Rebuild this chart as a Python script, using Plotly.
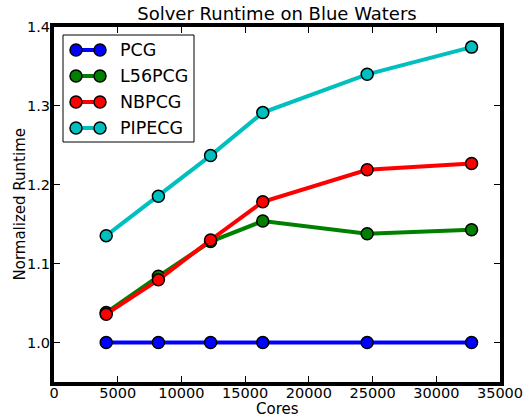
import plotly.graph_objects as go

cores = [4096, 8192, 12288, 16384, 24576, 32768]
series_names = ["PCG", "L56PCG", "NBPCG", "PIPECG"]
pcg = [1.0, 1.0, 1.0, 1.0, 1.0, 1.0]
l56pcg = [1.038, 1.084, 1.128, 1.154, 1.138, 1.143]
nbpcg = [1.036, 1.0795, 1.130, 1.1785, 1.219, 1.227]
pipecg = [1.1355, 1.1855, 1.237, 1.2915, 1.340, 1.3745]
colors = ["#0000ff", "#008000", "#ff0000", "#00bfbf"]
x_ticks = [0, 5000, 10000, 15000, 20000, 25000, 30000, 35000]
y_ticks = [1.0, 1.1, 1.2, 1.3, 1.4]

W, H = 532, 418
L, R, T, B = 54, 500, 27, 382
FONT = "DejaVu Sans"

fig = go.Figure()
for name, vals, col in zip(series_names, [pcg, l56pcg, nbpcg, pipecg], colors):
    fig.add_trace(go.Scatter(
        x=cores, y=vals, mode="lines+markers", name=name,
        line=dict(color=col, width=4),
        marker=dict(color=col, size=12, line=dict(color="black", width=1.5)),
        showlegend=False, cliponaxis=False,
    ))

def px(x):
    return (x - L) / (R - L)

def py(y):
    return (B - y) / (B - T)

shapes = []
annotations = []
# legend box
shapes.append(dict(type="rect", xref="paper", yref="paper",
                   x0=px(63), x1=px(194), y0=py(142), y1=py(35),
                   line=dict(color="black", width=1), fillcolor="white", layer="above"))
rows = [50, 76, 102, 128]
for name, col, ry in zip(series_names, colors, rows):
    shapes.append(dict(type="line", xref="paper", yref="paper",
                       x0=px(76), x1=px(100), y0=py(ry), y1=py(ry),
                       line=dict(color=col, width=4), layer="above"))
    for cx in (76, 100):
        shapes.append(dict(type="circle", xref="paper", yref="paper",
                           x0=px(cx - 6), x1=px(cx + 6), y0=py(ry + 6), y1=py(ry - 6),
                           fillcolor=col, line=dict(color="black", width=1.5), layer="above"))
    annotations.append(dict(text=name, xref="paper", yref="paper",
                            x=px(118), y=py(ry), xanchor="left", yanchor="middle",
                            showarrow=False, font=dict(family=FONT, size=17.5, color="black")))

# axis titles
annotations.append(dict(text="Cores", xref="paper", yref="paper",
                        x=px((L + R) / 2), y=py(409), xanchor="center", yanchor="middle",
                        showarrow=False, font=dict(family=FONT, size=15, color="black")))
annotations.append(dict(text="Normalized Runtime", xref="paper", yref="paper",
                        x=px(19), y=py((T + B) / 2), xanchor="center", yanchor="middle",
                        textangle=-90, showarrow=False,
                        font=dict(family=FONT, size=15, color="black")))

fig.update_layout(
    width=W, height=H,
    margin=dict(l=L, r=W - R, t=T, b=H - B, autoexpand=False),
    paper_bgcolor="white", plot_bgcolor="white",
    title=dict(text="Solver Runtime on Blue Waters", xref="paper", x=0.5, xanchor="center",
               y=1 - 14 / H, yanchor="middle",
               font=dict(family=FONT, size=18, color="black")),
    font=dict(family=FONT, color="black"),
    shapes=shapes, annotations=annotations,
    showlegend=False,
)
fig.update_xaxes(range=[0, 35000], tickvals=x_ticks, ticktext=[str(v) for v in x_ticks],
                 ticks="inside", ticklen=6, tickwidth=1, tickcolor="black",
                 showline=True, linewidth=4, linecolor="black", mirror="ticks",
                 showgrid=False, zeroline=False, automargin=False,
                 ticklabelstandoff=-5,
                 tickfont=dict(family=FONT, size=14.5, color="black"))
fig.update_yaxes(range=[0.95, 1.4], tickvals=y_ticks, ticktext=[f"{v:.1f}" for v in y_ticks],
                 ticks="inside", ticklen=6, tickwidth=1, tickcolor="black",
                 showline=True, linewidth=4, linecolor="black", mirror="ticks",
                 showgrid=False, zeroline=False, automargin=False,
                 ticklabelstandoff=-3,
                 tickfont=dict(family=FONT, size=14.5, color="black"))

fig.write_html("out.html", config={"displayModeBar": False})
with open("out.html", "r", encoding="utf-8") as f:
    html = f.read()
html = html.replace("<head>", "<head><style>html,body{margin:0;padding:0;overflow:hidden;}</style>", 1)
with open("out.html", "w", encoding="utf-8") as f:
    f.write(html)
